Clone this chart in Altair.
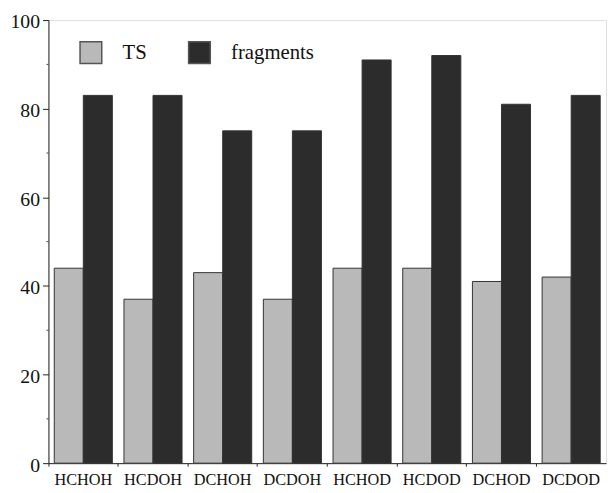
import altair as alt
import pandas as pd

categories = ["HCHOH", "HCDOH", "DCHOH", "DCDOH", "HCHOD", "HCDOD", "DCHOD", "DCDOD"]
series = ["TS", "fragments"]
ts_values = [44, 37, 43, 37, 44, 44, 41, 42]
fragment_values = [83, 83, 75, 75, 91, 92, 81, 83]
y_ticks = [0, 20, 40, 60, 80, 100]
y_minor = [10, 30, 50, 70, 90]

rows = []
for c, t, f in zip(categories, ts_values, fragment_values):
    rows.append({"cat": c, "series": "TS", "value": t})
    rows.append({"cat": c, "series": "fragments", "value": f})
df = pd.DataFrame(rows)
minor_df = pd.DataFrame({"value": y_minor})

FONT = "Liberation Serif"
yscale = alt.Scale(domain=[0, 100], nice=False)
yaxis = alt.Axis(values=y_ticks, labelFont=FONT, labelFontSize=20,
                 labelColor="#111111", labelPadding=3, labelOffset=2,
                 tickSize=6, tickColor="#222222", domainColor="#222222",
                 grid=False)

bars = alt.Chart(df).mark_bar(stroke="#333333", strokeWidth=1).encode(
    x=alt.X("cat:N", sort=categories, title=None,
            scale=alt.Scale(paddingInner=0, paddingOuter=0),
            axis=alt.Axis(labelAngle=0, labelFont=FONT, labelFontSize=16.5,
                          labelColor="#111111", labelPadding=6,
                          bandPosition=0, tickSize=3, tickColor="#222222",
                          domainColor="#222222", grid=False)),
    xOffset=alt.XOffset("series:N", sort=series,
                        scale=alt.Scale(paddingInner=0, paddingOuter=0.2)),
    y=alt.Y("value:Q", scale=yscale, title=None, axis=yaxis),
    color=alt.Color("series:N", sort=series,
                    scale=alt.Scale(domain=series, range=["#b9b9b9", "#2c2c2c"]),
                    legend=alt.Legend(title=None, orient="none", direction="horizontal",
                                      legendX=31, legendY=21, padding=0,
                                      symbolType="square", symbolSize=484,
                                      symbolStrokeColor="#555555", symbolStrokeWidth=1.5,
                                      symbolOpacity=1,
                                      labelFont=FONT, labelFontSize=21, labelColor="#111111",
                                      labelOffset=20, columnPadding=39)),
)

minor = alt.Chart(minor_df).mark_rule(color="#444444", strokeWidth=1).encode(
    y=alt.Y("value:Q", scale=yscale, title=None, axis=yaxis),
    x=alt.value(-2),
    x2=alt.value(0),
)

chart = alt.layer(bars, minor).properties(
    width=565, height=449,
    autosize=alt.AutoSizeParams(type="none"),
    padding={"left": 41, "top": 9, "right": 1, "bottom": 27},
).configure_view(
    stroke="#888888", strokeWidth=1
).configure(background="white")

chart.save("out.html", embed_options={"renderer": "svg", "actions": False})
